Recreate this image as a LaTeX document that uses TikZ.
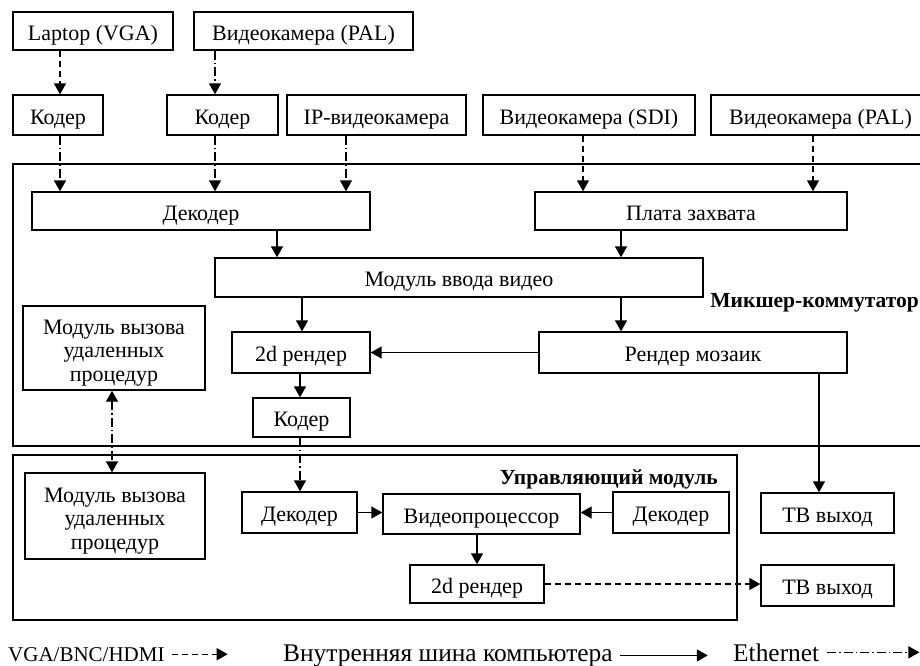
\documentclass[tikz,border=0pt]{standalone}
\usepackage{fontspec}
\setmainfont{Liberation Serif}
\usetikzlibrary{arrows.meta,positioning}
\tikzset{
  >={Triangle[length=11pt,width=12pt]},
  blk/.style={draw, line width=1.4pt, inner sep=0pt, minimum height=40,
    font=\fontsize{22}{23.5}\selectfont, text height=21pt, text depth=2.4pt},
  mblk/.style={blk, align=center, text height=, text depth=},
  lnk/.style={line width=1.4pt, ->},
  vga/.style={lnk, dash pattern=on 6pt off 4pt},
  eth/.style={lnk, dash pattern=on 9pt off 3pt on 1.5pt off 3pt},
  ttl/.style={font=\fontsize{21.5}{24}\selectfont\bfseries, inner sep=0pt},
  lgd/.style={font=\fontsize{25.4}{28}\selectfont, inner sep=0pt, anchor=base west},
}

\begin{document}
\begin{tikzpicture}[x=1pt,y=-1pt]
    \useasboundingbox (0,0) rectangle (920,665);
    % frames
    \draw[line width=1.4pt] (13,164) rectangle (930,446);
    \draw[line width=1.4pt] (13,455) rectangle (737,620);
    \node[ttl, anchor=east] (mixlbl) at (919,303) {Микшер-коммутатор};
    \node[ttl, anchor=east] (ctrllbl) at (718,479) {Управляющий модуль};

    % sources
    \node[blk, minimum width=160, minimum height=38] (laptop) at (93,31) {Laptop (VGA)};
    \node[blk, minimum width=219, minimum height=38] (cam1) at (303.5,31) {Видеокамера (PAL)};
    \node[blk, minimum width=90] (cod1) at (58,115) {Кодер};
    \node[blk, minimum width=111] (cod2) at (222.5,115) {Кодер};
    \node[blk, minimum width=179] (ipcam) at (376.5,115) {IP-видеокамера};
    \node[blk, minimum width=212] (sdicam) at (589,115) {Видеокамера (SDI)};
    \node[blk, minimum width=219] (cam2) at (820.5,115) {Видеокамера (PAL)};

    % mixer
    \node[blk, minimum width=338, minimum height=38] (dec) at (201,211) {Декодер};
    \node[blk, minimum width=312, minimum height=38] (grab) at (691,211) {Плата захвата};
    \node[blk, minimum width=488, minimum height=39] (vin) at (459,277.5) {Модуль ввода видео};
    \node[mblk, minimum width=182, minimum height=84] (rpc1) at (114,348)
      {\rule{0pt}{24pt}Модуль вызова\\удаленных\\процедур};
    \node[blk, minimum width=138, minimum height=41] (r2d) at (301,352.5) {2d рендер};
    \node[blk, minimum width=308, minimum height=41] (mosaic) at (693,352.5) {Рендер мозаик};
    \node[blk, minimum width=97, minimum height=39] (cod3) at (301.5,417.5) {Кодер};

    % control module
    \node[mblk, minimum width=180, minimum height=86] (rpc2) at (115,516)
      {\rule{0pt}{24pt}Модуль вызова\\удаленных\\процедур};
    \node[blk, minimum width=115, minimum height=41] (dec2) at (299.5,512.5) {Декодер};
    \node[blk, minimum width=197, minimum height=40] (vproc) at (481.5,514) {Видеопроцессор};
    \node[blk, minimum width=116, minimum height=41] (dec3) at (671,512.5) {Декодер};
    \node[blk, minimum width=134, minimum height=38] (r2d2) at (477,584) {2d рендер};
    \node[blk, minimum width=133, minimum height=40] (tv1) at (827.5,513) {ТВ выход};
    \node[blk, minimum width=133, minimum height=41] (tv2) at (827.5,585.5) {ТВ выход};

    % guides for the vertical links
    \coordinate (xa) at (60,0);
    \coordinate (xb) at (215,0);
    \coordinate (xc) at (346,0);
    \coordinate (xd) at (583,0);
    \coordinate (xe) at (813,0);
    \coordinate (xf) at (277,0);
    \coordinate (xg) at (621,0);
    \coordinate (xh) at (302,0);
    \coordinate (xi) at (819,0);
    \coordinate (xj) at (112,0);
    \coordinate (xk) at (300,0);

    \draw[vga] (laptop.south -| xa) -- (cod1.north -| xa);
    \draw[eth] (cam1.south -| xb) -- (cod2.north -| xb);
    \draw[eth] (cod1.south -| xa) -- (dec.north -| xa);
    \draw[eth] (cod2.south -| xb) -- (dec.north -| xb);
    \draw[eth] (ipcam.south -| xc) -- (dec.north -| xc);
    \draw[vga] (sdicam.south -| xd) -- (grab.north -| xd);
    \draw[vga] (cam2.south -| xe) -- (grab.north -| xe);
    \draw[lnk] (dec.south -| xf) -- (vin.north -| xf);
    \draw[lnk] (grab.south -| xg) -- (vin.north -| xg);
    \draw[lnk] (vin.south -| xh) -- (r2d.north -| xh);
    \draw[lnk] (vin.south -| xg) -- (mosaic.north -| xg);
    \draw[lnk] (mosaic.west) -- (r2d.east);
    \draw[lnk] (r2d.south -| xk) -- (cod3.north -| xk);
    \draw[lnk] (mosaic.south -| xi) -- (tv1.north -| xi);
    \draw[eth] (cod3.south -| xk) -- (dec2.north -| xk);
    \draw[eth, <->] (rpc1.south -| xj) -- (rpc2.north -| xj);
    \draw[lnk] (dec2.east) -- (dec2.east -| vproc.west);
    \draw[lnk] (dec3.west) -- (dec3.west -| vproc.east);
    \draw[lnk] (vproc.south -| r2d2) -- (r2d2.north);
    \draw[vga] (r2d2.east) -- (r2d2.east -| tv2.west);

    % legend
    \node[lgd, font=\fontsize{21}{24}\selectfont] (lgA) at (8,661) {VGA/BNC/HDMI};
    \node[lgd] (lgB) at (283,661) {Внутренняя шина компьютера};
    \node[lgd] (lgC) at (733,661) {Ethernet};
    \draw[vga] (lgA.east) ++(7,0) -- ++(56,0);
    \draw[lnk] (lgB.east) ++(7,0) -- ++(88,0);
    \draw[eth] (lgC.east) ++(8,0) -- ++(92,0);
\end{tikzpicture}
\end{document}
